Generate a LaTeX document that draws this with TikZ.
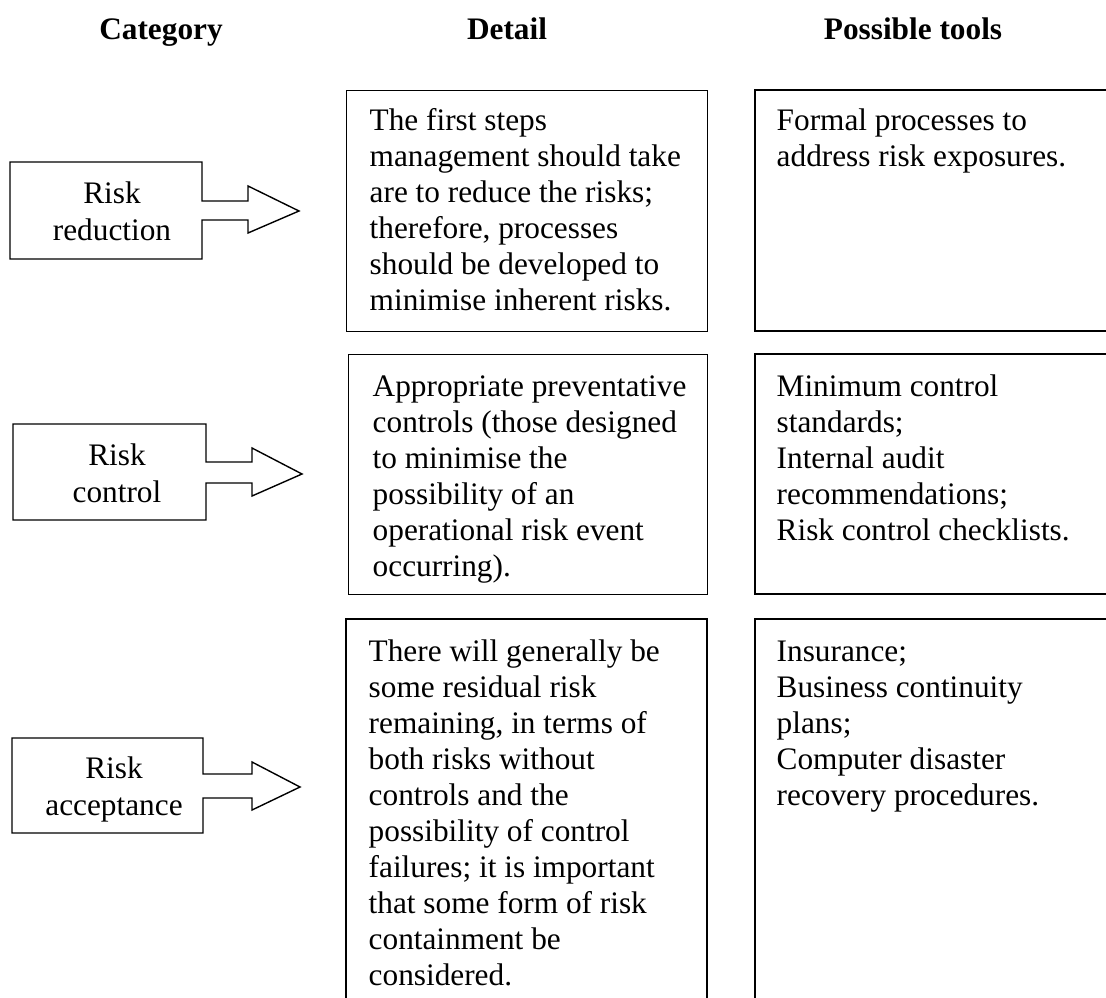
\documentclass[tikz,border=0pt]{standalone}
\usepackage{fontspec}
\setmainfont{Liberation Serif}
\begin{document}
\begin{tikzpicture}[x=1pt,y=-1pt,line width=1.4pt,
  body/.style={inner sep=0pt,anchor=base west,font=\fontsize{31.3}{36}\selectfont},
  label/.style={inner sep=0pt,anchor=base,font=\fontsize{31.3}{37}\selectfont},
  head/.style={inner sep=0pt,anchor=base,font=\fontsize{31.3}{36}\selectfont\bfseries},
  frame/.style={draw,inner sep=0pt,anchor=north west}]
\useasboundingbox (0,0) rectangle (1106,998);

% column headings
\node[head] (hcat) at (161,40) {Category};
\node[head] (hdet) at (507,40) {Detail};
\node[head] (htool) at (913,40) {Possible tools};

% category arrows: a box with a shaft and an open head
\draw (202,201) -- (202,162) -- (10,162) -- (10,259) -- (202,259) -- (202,220)
      -- (248,220) -- (248,233) -- (299,211) -- (248,186) -- (248,201) -- cycle;
\draw (206,462) -- (206,424) -- (13,424) -- (13,520) -- (206,520) -- (206,483)
      -- (252,483) -- (252,496) -- (302,474) -- (252,448) -- (252,462) -- cycle;
\draw (203,774) -- (203,738) -- (12,738) -- (12,833) -- (203,833) -- (203,798)
      -- (252,798) -- (252,810) -- (300,787) -- (252,762) -- (252,774) -- cycle;

\node[label] (c1) at (112,203) {\parbox[t]{150pt}{\centering Risk\\reduction}};
\node[label] (c2) at (117,465) {\parbox[t]{150pt}{\centering Risk\\control}};
\node[label] (c3) at (114,778) {\parbox[t]{150pt}{\centering Risk\\acceptance}};

% detail boxes
\node[frame,minimum width=361pt,minimum height=241pt] (d1) at (346,90) {};
\node[frame,minimum width=359pt,minimum height=240pt] (d2) at (348,354) {};
\draw (346,998) -- (346,619) -- (707,619) -- (707,998);
\coordinate (d3) at (346,619);

\node[body] (t1) at (369,130) {\parbox[t]{330pt}{\raggedright
  The first steps\\management should take\\are to reduce the risks;\\therefore, processes\\should be developed to\\minimise inherent risks.}};
\node[body] (t2) at (372,396) {\parbox[t]{330pt}{\raggedright
  Appropriate preventative\\controls (those designed\\to minimise the\\possibility of an\\operational risk event\\occurring).}};
\node[body] (t3) at (368,661) {\parbox[t]{330pt}{\raggedright
  There will generally be\\some residual risk\\remaining, in terms of\\both risks without\\controls and the\\possibility of control\\failures; it is important\\that some form of risk\\containment be\\considered.}};

% tool boxes, open on the right
\draw (1106,90) -- (755,90) -- (755,331) -- (1106,331);
\draw (1106,354) -- (755,354) -- (755,594) -- (1106,594);
\draw (1106,619) -- (755,619) -- (755,998);

\node[body] (p1) at (776,130) {\parbox[t]{330pt}{\raggedright
  Formal processes to\\address risk exposures.}};
\node[body] (p2) at (776,396) {\parbox[t]{330pt}{\raggedright
  Minimum control\\standards;\\Internal audit\\recommendations;\\Risk control checklists.}};
\node[body] (p3) at (776,661) {\parbox[t]{330pt}{\raggedright
  Insurance;\\Business continuity\\plans;\\Computer disaster\\recovery procedures.}};
\end{tikzpicture}
\end{document}
